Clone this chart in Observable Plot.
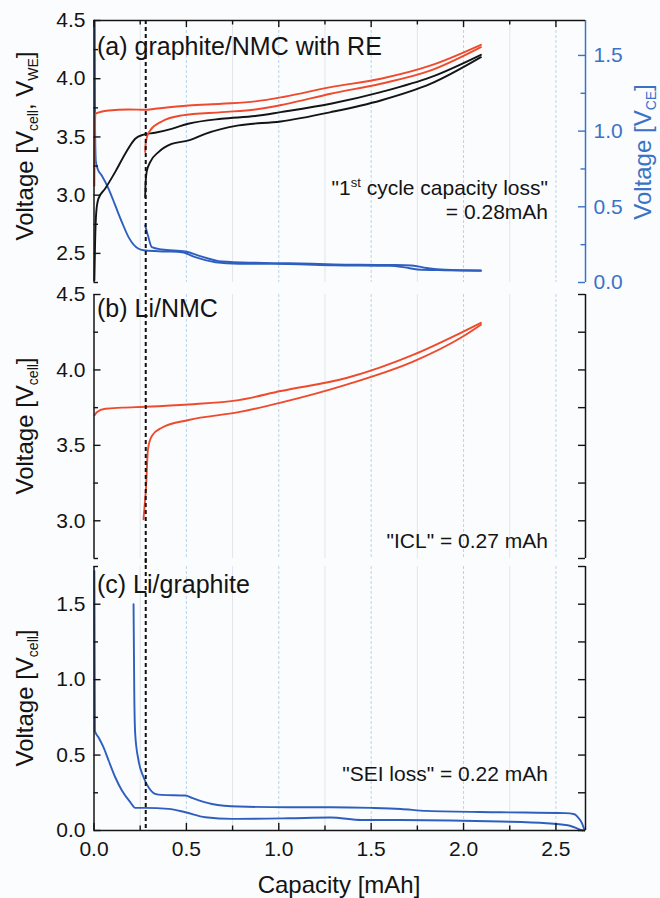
<!DOCTYPE html>
<html><head><meta charset="utf-8">
<script src="https://cdn.jsdelivr.net/npm/d3@7"></script>
<script src="https://cdn.jsdelivr.net/npm/@observablehq/plot@0.6"></script>
<style>
html,body{margin:0;padding:0;background:#fbfcfe;}
#chart{position:relative;width:660px;height:898px;}
#chart svg{position:absolute;left:0;}
</style></head><body><div id="chart"></div>
<script>
// ---------------- data ----------------
// (a) graphite/NMC with reference electrode
const aCellChargeCap = [0.002,0.006,0.012,0.024,0.06,0.115,0.169,0.223,0.268,0.33,0.42,0.51,0.69,0.873,1.01,1.281,1.552,1.823,2.094];
const aCellChargeV   = [2.27,2.6,2.85,2.97,3.055,3.2,3.356,3.485,3.52,3.536,3.57,3.613,3.656,3.68,3.713,3.785,3.885,4.013,4.205];
const aCellDischCap  = [0.277,0.279,0.285,0.304,0.349,0.42,0.512,0.602,0.783,1.01,1.281,1.552,1.823,2.094];
const aCellDischV    = [2.983,3.1,3.2,3.284,3.37,3.44,3.47,3.527,3.599,3.633,3.713,3.813,3.957,4.185];
const aWeChargeCap   = [0.002,0.004,0.008,0.079,0.187,0.277,0.33,0.512,0.69,0.873,1.03,1.281,1.552,1.823,2.094];
const aWeChargeV     = [3.08,3.5,3.7,3.727,3.736,3.733,3.742,3.77,3.785,3.805,3.845,3.928,4.0,4.114,4.291];
const aWeDischCap    = [0.277,0.279,0.285,0.304,0.367,0.476,0.692,0.873,1.03,1.281,1.552,1.823,2.094];
const aWeDischV      = [3.37,3.43,3.49,3.556,3.633,3.685,3.713,3.736,3.78,3.871,3.957,4.071,4.271];
const aCeChargeCap   = [0.004,0.006,0.01,0.02,0.042,0.079,0.115,0.151,0.187,0.241,0.277,0.386,0.476,0.548,0.657,0.783,1.054,1.3,1.6,1.68,1.75,1.9,2.094];
const aCeChargeV     = [1.73,1.0,0.8,0.75,0.707,0.619,0.509,0.399,0.3,0.223,0.211,0.205,0.2,0.167,0.134,0.124,0.122,0.114,0.11,0.1,0.086,0.081,0.078];
const aCeDischCap    = [0.277,0.292,0.313,0.367,0.494,0.566,0.692,0.873,1.054,1.3,1.6,1.72,1.8,1.9,2.094];
const aCeDischV      = [0.377,0.31,0.233,0.218,0.205,0.178,0.139,0.13,0.127,0.12,0.116,0.112,0.096,0.084,0.079];
// (b) Li/NMC
const bChargeCap = [0.003,0.015,0.061,0.151,0.277,0.512,0.783,1.011,1.371,1.733,1.985,2.094];
const bChargeV   = [3.699,3.72,3.743,3.75,3.756,3.771,3.8,3.86,3.948,4.103,4.246,4.312];
const bDischCap  = [0.268,0.274,0.281,0.292,0.313,0.367,0.512,0.783,1.011,1.371,1.733,1.985,2.094];
const bDischV    = [3.01,3.1,3.209,3.474,3.562,3.617,3.668,3.72,3.783,3.904,4.058,4.213,4.3];
// (c) Li/graphite
const cLithCap   = [0.002,0.005,0.024,0.051,0.079,0.115,0.151,0.196,0.223,0.277,0.404,0.494,0.602,0.747,1.054,1.28,1.45,1.66,2.2,2.45,2.53,2.58,2.62,2.645];
const cLithV     = [1.72,0.66,0.618,0.552,0.464,0.353,0.265,0.188,0.15,0.15,0.143,0.121,0.088,0.077,0.081,0.086,0.07,0.07,0.06,0.048,0.04,0.03,0.011,0.0];
const cDelithCap = [0.214,0.218,0.223,0.241,0.268,0.295,0.331,0.367,0.494,0.53,0.638,0.783,1.054,1.28,1.5,1.66,1.8,2.2,2.55,2.6,2.617,2.64,2.655];
const cDelithV   = [1.5,0.904,0.64,0.464,0.353,0.287,0.243,0.236,0.232,0.216,0.176,0.159,0.154,0.154,0.15,0.143,0.13,0.121,0.115,0.108,0.09,0.05,0.0];

const lossMarker = [0.28];
// axes / ticks
const xDomain = [0, 2.66];
const xMajor = [0, 0.5, 1.0, 1.5, 2.0, 2.5];
const xMinor = [0.25, 0.75, 1.25, 1.75, 2.25];
const aYDomain = [2.25, 4.5];
const aYMajor = [2.5, 3.0, 3.5, 4.0, 4.5];
const aYMinor = [2.25, 2.75, 3.25, 3.75, 4.25];
const ceMajor = [0, 0.5, 1.0, 1.5];
const ceMinor = [0.25, 0.75, 1.25];
const bYDomain = [2.75, 4.5];
const bYMajor = [3.0, 3.5, 4.0, 4.5];
const bYMinor = [2.75, 3.25, 3.75, 4.25];
const cYDomain = [0, 1.75];
const cYMajor = [0, 0.5, 1.0, 1.5];
const cYMinor = [0.25, 0.75, 1.25, 1.75];

// ---------------- style ----------------
const FONT = '"Liberation Sans", Arial, Helvetica, sans-serif';
const RED = "#ef4a2c", BLUE = "#2e5fbf", AXBLUE = "#3a73c6", BLACK = "#141414";
const W = 660, ML = 93.5, MR = 75;
const FW = W - ML - MR;          // frame width
const TICKFS = 21, TITLEFS = 25;
const ceToLeft = v => aYDomain[0] + 1.3 * v;   // secondary (right) axis mapping
const leftToCe = v => (v - aYDomain[0]) / 1.3;

const rows = (xs, ys) => xs.map((x, i) => ({x, y: ys[i]}));
const lineOpts = (stroke) => ({x: "x", y: "y", stroke, strokeWidth: 1.9, curve: "monotone-x"});

function grid() {
  return [
    Plot.ruleX(xMinor, {stroke: "#e1e5ea", strokeWidth: 1}),
    Plot.ruleX(xMajor.slice(1), {stroke: "#b8d4ec", strokeWidth: 1, strokeDasharray: "3,2"})
  ];
}
// inward ticks drawn as short tick marks hugging the frame edge
function yTicks(values, side, len, color) {
  const o = {y: d => d, stroke: color, strokeWidth: 1.4};
  if (side === "left") o.insetRight = FW - len; else o.insetLeft = FW - len;
  return Plot.tickY(values, o);
}
function xTicks(values, side, len, FH) {
  const o = {x: d => d, stroke: BLACK, strokeWidth: 1.4};
  if (side === "top") o.insetBottom = FH - len; else o.insetTop = FH - len;
  return Plot.tickX(values, o);
}
function yLabels(values, anchor, color, fmt) {
  return Plot.axisY(values, {anchor, tickSize: 0, tickPadding: anchor === "left" ? 8.5 : 8, fontSize: TICKFS, color, label: null, tickFormat: fmt});
}
const f1 = d => d.toFixed(1);

// ---------------- panel (a) ----------------  frame y 20..282
const FHA = 262;
const plotA = Plot.plot({
  width: W, height: 300, marginLeft: ML, marginRight: MR, marginTop: 20, marginBottom: 18,
  x: {domain: xDomain, axis: null}, y: {domain: aYDomain, axis: null},
  style: {background: "transparent", fontFamily: FONT, color: BLACK},
  marks: [
    ...grid(),
    Plot.line(rows(aCeChargeCap, aCeChargeV.map(ceToLeft)), lineOpts(BLUE)),
    Plot.line(rows(aCeDischCap, aCeDischV.map(ceToLeft)), lineOpts(BLUE)),
    Plot.line(rows(aCellChargeCap, aCellChargeV), lineOpts(BLACK)),
    Plot.line(rows(aCellDischCap, aCellDischV), lineOpts(BLACK)),
    Plot.line(rows(aWeChargeCap, aWeChargeV), lineOpts(RED)),
    Plot.line(rows(aWeDischCap, aWeDischV), lineOpts(RED)),
    Plot.ruleX(lossMarker, {stroke: "#111", strokeWidth: 2, strokeDasharray: "4,3", insetBottom: -4}),
    Plot.ruleX([xDomain[0]], {stroke: BLACK, strokeWidth: 1.5}),
    Plot.ruleX([xDomain[1]], {stroke: AXBLUE, strokeWidth: 1.5}),
    Plot.ruleY([aYDomain[1]], {stroke: BLACK, strokeWidth: 1.3}),
    yTicks(aYMajor, "left", 7, BLACK),
    yTicks(aYMinor, "left", 4.5, BLACK),
    yLabels(aYMajor, "left", BLACK, f1),
    yTicks(ceMajor.map(ceToLeft), "right", 7, AXBLUE),
    yTicks(ceMinor.map(ceToLeft), "right", 4.5, AXBLUE),
    yLabels(ceMajor.map(ceToLeft), "right", AXBLUE, d => leftToCe(d).toFixed(1)),
    xTicks(xMajor, "top", 7, FHA),
    xTicks(xMinor, "top", 4.5, FHA)
  ]
});

// ---------------- panel (b) ----------------  frame y 294..558
const FHB = 264, TOPB = 276;
const plotB = Plot.plot({
  width: W, height: 300, marginLeft: ML, marginRight: MR, marginTop: 18, marginBottom: 18,
  x: {domain: xDomain, axis: null}, y: {domain: bYDomain, axis: null},
  style: {background: "transparent", fontFamily: FONT, color: BLACK},
  marks: [
    ...grid(),
    Plot.line(rows(bChargeCap, bChargeV), lineOpts(RED)),
    Plot.line(rows(bDischCap, bDischV), lineOpts(RED)),
    Plot.ruleX(lossMarker, {stroke: "#111", strokeWidth: 2, strokeDasharray: "4,3", insetTop: -8, insetBottom: -8}),
    Plot.ruleX(xDomain, {stroke: BLACK, strokeWidth: 1.5}),
    yTicks(bYMajor, "left", 7, BLACK),
    yTicks(bYMinor, "left", 4.5, BLACK),
    yLabels(bYMajor, "left", BLACK, f1),
    yTicks(bYMajor.concat(bYMinor), "right", 7, BLACK)
  ]
});

// ---------------- panel (c) ----------------  frame y 566..830
const FHC = 264, TOPC = 548;
const plotC = Plot.plot({
  width: W, height: 350, marginLeft: ML, marginRight: MR, marginTop: 18, marginBottom: 68,
  x: {domain: xDomain, axis: null}, y: {domain: cYDomain, axis: null},
  style: {background: "transparent", fontFamily: FONT, color: BLACK},
  marks: [
    ...grid(),
    Plot.line(rows(cLithCap, cLithV), lineOpts(BLUE)),
    Plot.line(rows(cDelithCap, cDelithV), lineOpts(BLUE)),
    Plot.ruleX(lossMarker, {stroke: "#111", strokeWidth: 2, strokeDasharray: "4,3", insetTop: -8}),
    Plot.ruleX(xDomain, {stroke: BLACK, strokeWidth: 1.5}),
    Plot.ruleY([cYDomain[0]], {stroke: BLACK, strokeWidth: 1.5}),
    yTicks(cYMajor, "left", 7, BLACK),
    yTicks(cYMinor, "left", 4.5, BLACK),
    yLabels(cYMajor, "left", BLACK, f1),
    yTicks(cYMajor.concat(cYMinor), "right", 7, BLACK),
    xTicks(xMajor, "bottom", 7, FHC),
    xTicks(xMinor, "bottom", 4.5, FHC),
    Plot.axisX(xMajor, {anchor: "bottom", tickSize: 0, tickPadding: 11, fontSize: TICKFS, label: null, tickFormat: f1})
  ]
});

const chart = document.getElementById("chart");
[[plotA, 0], [plotB, TOPB], [plotC, TOPC]].forEach(([p, top]) => {
  p.style.top = top + "px";
  chart.appendChild(p);
});

// ---------------- text labels ----------------
function rich(svg, parts, attrs) {
  const t = d3.select(svg).append("text")
    .attr("font-family", FONT).attr("fill", BLACK).attr("text-anchor", "start");
  Object.entries(attrs).forEach(([k, v]) => t.attr(k, v));
  let shift = 0;
  parts.forEach(([s, kind]) => {
    const target = kind === "sub" ? 5 : kind === "sup" ? -8 : 0;
    const ts = t.append("tspan").text(s).attr("dy", target - shift);
    if (kind) ts.attr("font-size", kind === "sub" ? 14 : 13);
    shift = target;
  });
  return t;
}
// panel titles
rich(plotA, [["(a) graphite/NMC with RE"]], {x: 97, y: 55, "font-size": TITLEFS});
rich(plotB, [["(b) Li/NMC"]], {x: 97, y: 317 - TOPB, "font-size": TITLEFS});
rich(plotC, [["(c) Li/graphite"]], {x: 97, y: 593 - TOPC, "font-size": TITLEFS});
// annotations
rich(plotA, [["\"1"], ["st", "sup"], [" cycle capacity loss\""]], {x: 548, y: 195, "font-size": 21, "text-anchor": "end"});
rich(plotA, [["= 0.28mAh"]], {x: 548, y: 219, "font-size": 21, "text-anchor": "end"});
rich(plotB, [["\"ICL\" = 0.27 mAh"]], {x: 548, y: 548 - TOPB, "font-size": 21, "text-anchor": "end"});
rich(plotC, [["\"SEI loss\" = 0.22 mAh"]], {x: 548, y: 781 - TOPC, "font-size": 21, "text-anchor": "end"});
// axis titles
rich(plotA, [["Voltage [V"], ["cell", "sub"], [", V"], ["WE", "sub"], ["]"]],
  {transform: "translate(33,146) rotate(-90)", "font-size": 24, "text-anchor": "middle"});
rich(plotA, [["Voltage [V"], ["CE", "sub"], ["]"]],
  {transform: "translate(651,152) rotate(-90)", "font-size": 24, "text-anchor": "middle", fill: AXBLUE});
rich(plotB, [["Voltage [V"], ["cell", "sub"], ["]"]],
  {transform: `translate(33,${426 - TOPB}) rotate(-90)`, "font-size": 24, "text-anchor": "middle"});
rich(plotC, [["Voltage [V"], ["cell", "sub"], ["]"]],
  {transform: `translate(33,${698 - TOPC}) rotate(-90)`, "font-size": 24, "text-anchor": "middle"});
rich(plotC, [["Capacity [mAh]"]], {x: 339, y: 893 - TOPC, "font-size": 24, "text-anchor": "middle"});
</script></body></html>
